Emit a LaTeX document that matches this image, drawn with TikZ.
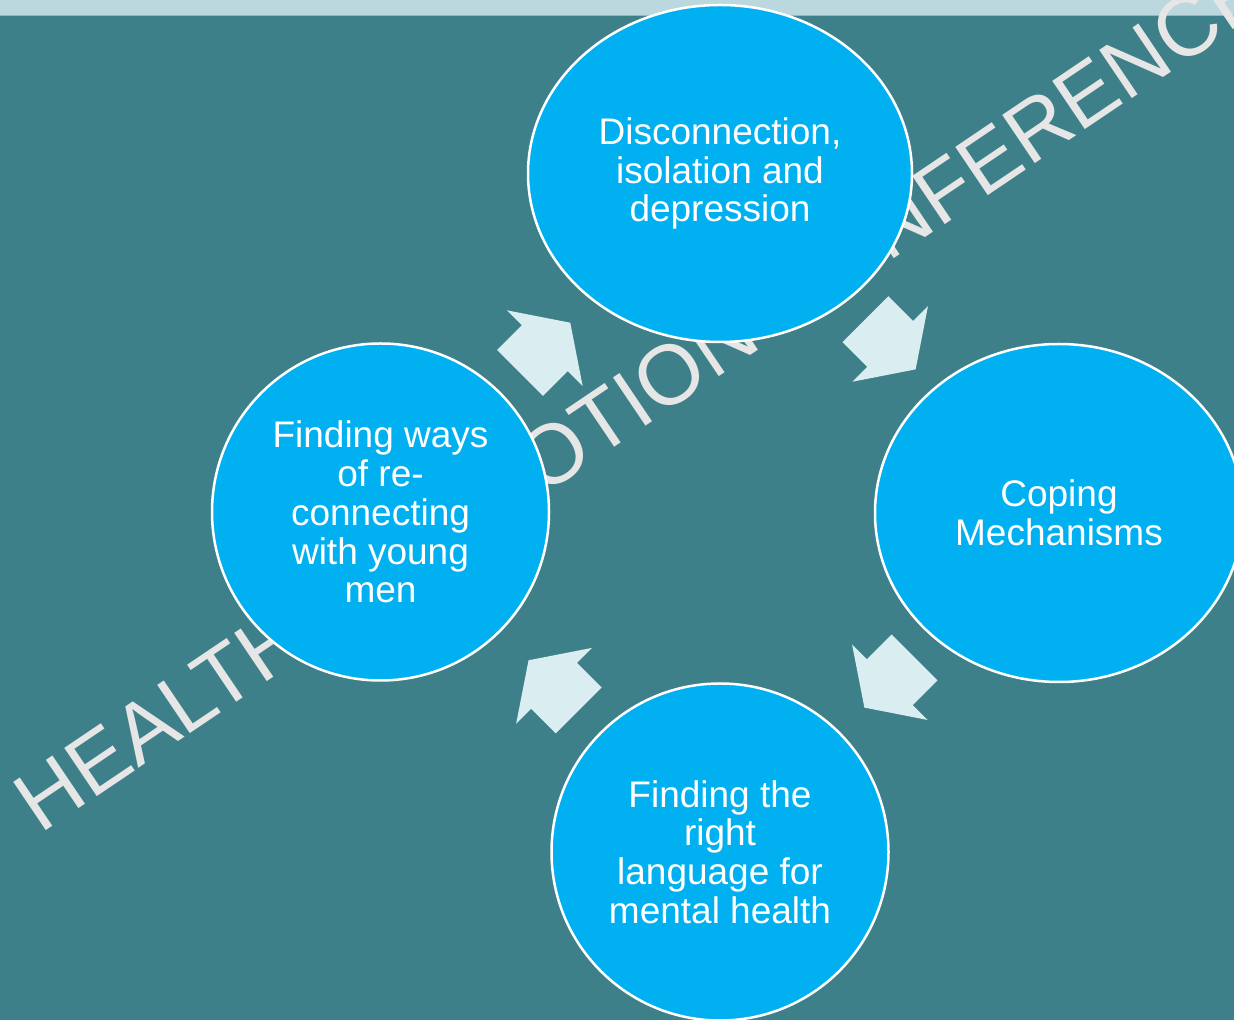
\documentclass[tikz,border=0pt]{standalone}
\usepackage{fontspec}
\setmainfont{Liberation Sans}
\usetikzlibrary{shapes.geometric,calc}
\definecolor{slidebg}{HTML}{3E808A}
\definecolor{topband}{HTML}{BBD8DF}
\definecolor{bandedge}{HTML}{8DB9C1}
\definecolor{bubblefill}{HTML}{00B0F0}
\definecolor{arrowfill}{HTML}{DAEEF1}
\definecolor{markgrey}{HTML}{E6E6E6}
\tikzset{
  bubble/.style={fill=bubblefill, draw=white, line width=2.5pt, inner sep=0pt,
    outer sep=0pt, text=white, align=center,
    font=\fontsize{37}{38.8}\selectfont},
  roundbubble/.style={bubble, circle, minimum size=337pt},
  ovalbubble/.style={bubble, ellipse},
  watermark/.style={text=markgrey, inner sep=0pt,
    font=\fontsize{84.6}{90}\selectfont},
  cyclearrow/.pic={
    \fill[arrowfill] (-35.5,-32.5) -- (-0.5,-32.5) -- (-0.5,-53.5) -- (35.5,0)
      -- (-0.5,53.5) -- (-0.5,32.5) -- (-35.5,32.5) -- cycle;
  }
}
\begin{document}
\begin{tikzpicture}[x=1pt,y=1pt]
\useasboundingbox (0,0) rectangle (1234,1020);
\clip (0,0) rectangle (1234,1020);
% slide background and header band
\fill[slidebg] (0,0) rectangle (1234,1020);
\fill[topband] (0,1004) rectangle (1234,1020);
\fill[bandedge] (0,1003.5) rectangle (1234,1005);
% diagonal watermark behind the cycle
\node[watermark, anchor=base west, rotate=34] (wm) at (40.5,185.3)
  {HEALTH PROMOTION CONFERENCE};
% the four stages of the cycle
\node[ovalbubble, minimum width=384pt, minimum height=337pt] (T) at (720,846.5)
  {Disconnection,\\isolation and\\depression};
\node[ovalbubble, minimum width=368pt, minimum height=338pt] (R) at (1059,507)
  {Coping\\Mechanisms};
\node[roundbubble] (B) at (720,168)
  {Finding the\\right\\language for\\mental health};
\node[roundbubble] (L) at (380.5,508)
  {Finding ways\\of re-\\connecting\\with young\\men};
% clockwise block arrows between neighbouring stages
\pic[rotate=45] at ($(L)!0.485!(T)$) {cyclearrow};
\pic[rotate=-45] at ($(T)!0.503!(R)$) {cyclearrow};
\pic[rotate=-135] at ($(R)!0.5!(B)$) {cyclearrow};
\pic[rotate=135] at ($(B)!0.49!(L)$) {cyclearrow};
\end{tikzpicture}
\end{document}
